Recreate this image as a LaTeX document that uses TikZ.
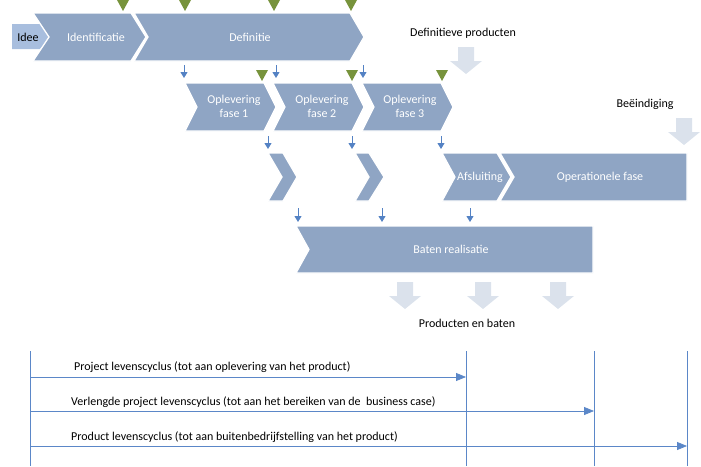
\documentclass[tikz,border=0pt]{standalone}
\usepackage{fontspec}
\setmainfont{Carlito}
\usetikzlibrary{arrows.meta}
\definecolor{chev}{RGB}{143,165,196}
\definecolor{ideec}{RGB}{168,190,222}
\definecolor{pale}{RGB}{219,226,236}
\definecolor{grn}{RGB}{119,147,60}
\definecolor{blu}{RGB}{84,130,196}
\definecolor{tl}{RGB}{91,135,200}
\begin{document}
\begin{tikzpicture}[x=1pt,y=-1pt,
  chevshape/.style={fill=chev, draw=white, line width=1.3pt, line join=miter},
  chevtext/.style={text=white, font=\fontsize{12}{14}\selectfont, align=center, inner sep=0pt},
  lbl/.style={text=black, font=\fontsize{12}{14}\selectfont, inner sep=0pt},
  bluearr/.style={draw=blu, line width=0.9pt, -{Triangle[length=6pt,width=7pt]}},
  tlline/.style={draw=tl, line width=0.8pt},
  tlarrow/.style={draw=tl, line width=0.8pt, -{Triangle[length=10pt,width=8pt]}},
  grtri/.pic={\fill[grn] (-6,0) -- (6,0) -- (0,11) -- cycle;},
  blk/.pic={\fill[pale] (-8,0) -- (8,0) -- (8,14) -- (16,14) -- (0,27) -- (-16,14) -- (-8,14) -- cycle;}
]
\useasboundingbox (0,0) rectangle (701,466);

% Idee
\fill[ideec] (12,24) -- (40,24) -- (52,36.5) -- (40,49) -- (12,49) -- cycle;

% top row chevrons
\path[chevshape] (33,13) -- (131,13) -- (146,37) -- (131,61) -- (33,61) -- (49,37) -- cycle;
\path[chevshape] (134,13) -- (350,13) -- (364,37) -- (350,61) -- (134,61) -- (148,37) -- cycle;
\node[lbl] (idee) at (28,37) {Idee};
\node[chevtext] (ident) at (96,37) {Identificatie};
\node[chevtext] (defin) at (250,37) {Definitie};

% top green triangles
\foreach \gx in {123,185,274,351} \pic at (\gx,0) {grtri};

% fase row
\path[chevshape] (185,83) -- (264,83) -- (276,107) -- (264,131) -- (185,131) -- (197,107) -- cycle;
\path[chevshape] (273,83) -- (352,83) -- (364,107) -- (352,131) -- (273,131) -- (285,107) -- cycle;
\path[chevshape] (362,83) -- (441,83) -- (453,107) -- (441,131) -- (362,131) -- (374,107) -- cycle;
\node[chevtext] (f1) at (234,106.5) {Oplevering\\fase 1};
\node[chevtext] (f2) at (322,106.5) {Oplevering\\fase 2};
\node[chevtext] (f3) at (410,106.5) {Oplevering\\fase 3};

\foreach \gx in {262,352,442} \pic at (\gx,70) {grtri};
\foreach \bx in {184,276,363} \draw[bluearr] (\bx,65) -- (\bx,78);

% row 3
\path[chevshape] (268,153) -- (283,153) -- (297,177) -- (283,201) -- (268,201) -- (282,177) -- cycle;
\path[chevshape] (355,153) -- (369,153) -- (384,177) -- (369,201) -- (355,201) -- (369,177) -- cycle;
\path[chevshape] (442,153) -- (497,153) -- (511,177) -- (497,201) -- (442,201) -- (455,177) -- cycle;
\path[chevshape] (500,153) -- (687,153) -- (687,201) -- (500,201) -- (514,177) -- cycle;
\node[chevtext] (afs) at (480,177) {Afsluiting};
\node[chevtext] (oper) at (600,177) {Operationele fase};
\foreach \bx in {268,352,441} \draw[bluearr] (\bx,136) -- (\bx,149);

% row 4
\path[chevshape] (296,226) -- (593,226) -- (593,273) -- (296,273) -- (309,249.5) -- cycle;
\node[chevtext] (baten) at (451,249.5) {Baten realisatie};
\foreach \bx in {298,382,470} \draw[bluearr] (\bx,208) -- (\bx,222);

% block arrows and labels
\node[lbl] (defprod) at (463,33) {Definitieve producten};
\pic at (466,47) {blk};
\node[lbl] (beeind) at (645,104) {Beëindiging};
\pic at (684,118) {blk};
\foreach \ax in {405,483,558} \pic at (\ax,282) {blk};
\node[lbl] (prodbat) at (467,323) {Producten en baten};

% timeline
\foreach \n/\vx in {a/30,b/466,c/594,d/687} {
  \coordinate (top\n) at (\vx,351);
  \coordinate (bot\n) at (\vx,466);
  \draw[tlline] (top\n) -- (bot\n);
}
\coordinate (s1) at (30,377); \coordinate (e1) at (466,377);
\coordinate (s2) at (30,411); \coordinate (e2) at (594,411);
\coordinate (s3) at (30,446); \coordinate (e3) at (687,446);
\draw[tlarrow] (s1) -- (e1);
\draw[tlarrow] (s2) -- (e2);
\draw[tlarrow] (s3) -- (e3);
\node[lbl, anchor=west] (t1) at (74,367) {Project levenscyclus (tot aan oplevering van het product)};
\node[lbl, anchor=west] (t2) at (71,402) {Verlengde project levenscyclus (tot aan het bereiken van de\ \ business case)};
\node[lbl, anchor=west] (t3) at (71,437) {Product levenscyclus (tot aan buitenbedrijfstelling van het product)};
\end{tikzpicture}
\end{document}
